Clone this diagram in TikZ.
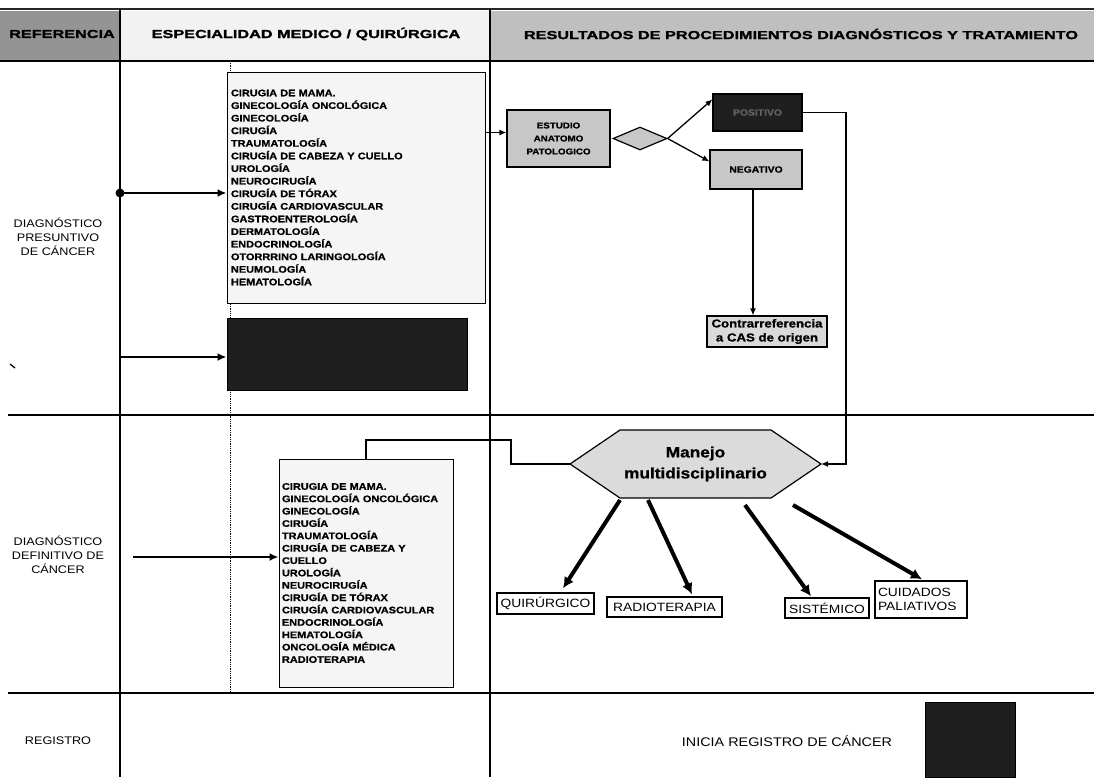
\documentclass[tikz,border=0pt]{standalone}
\usepackage{fontspec}
\setmainfont{Liberation Sans}
\newfontfamily\hfont[FakeStretch=1.4, BoldFeatures={FakeBold=1.6}]{Liberation Sans}
\newfontfamily\wfont[FakeStretch=1.15, BoldFeatures={FakeBold=1.0}]{Liberation Sans}
\usetikzlibrary{arrows.meta,shapes.geometric}
\tikzset{
  hdr/.style={font=\hfont\bfseries\fontsize{11.6}{13}\selectfont, inner sep=0pt},
  lbl/.style={font=\wfont\fontsize{11}{14}\selectfont, align=center, inner sep=0pt},
  listbox/.style={draw=black, line width=1pt, fill=black!4, inner xsep=4pt, inner ysep=0pt,
    align=left, font=\wfont\bfseries\fontsize{9.5}{12.6}\selectfont},
  graybox/.style={draw=black, line width=1.2pt, fill=black!22, inner sep=0pt, align=center},
  darkbox/.style={draw=black, line width=1pt, fill=black!88, inner sep=0pt},
  outbox/.style={draw=black, line width=1.4pt, fill=white, inner sep=0pt,
    font=\wfont\fontsize{12}{14}\selectfont},
  arr/.style={line width=1.3pt, -{Latex[length=7pt,width=6pt]}},
  barr/.style={line width=2.6pt, -{Latex[length=9pt,width=8pt]}},
  thickarr/.style={line width=4pt, -{Latex[length=11pt,width=11pt]}},
  grid/.style={line width=1.7pt}
}
\begin{document}
\begin{tikzpicture}[x=1pt,y=-1pt]
\useasboundingbox (0,0) rectangle (1094,777);
% header band
\fill[black!42] (0,11) rectangle (120,60);
\fill[black!5] (120,11) rectangle (490,60);
\fill[black!25] (490,11) rectangle (1094,60);
\draw[line width=1.4pt, black!85] (0,9) -- (1094,9);
\draw[line width=2.2pt] (0,61) -- (1094,61);
\draw[grid] (120,9) -- (120,777);
\draw[grid] (490,9) -- (490,777);
\draw[line width=2pt] (8,415) -- (1094,415);
\draw[line width=2pt] (8,693) -- (1094,693);
\draw[densely dotted, line width=0.8pt] (230,61) -- (230,693);
\draw[line width=1.3pt] (10,364) -- (15,368);

\node[hdr] (hRef) at (62,34) {REFERENCIA};
\node[hdr] (hEsp) at (306,34) {ESPECIALIDAD MEDICO / QUIRÚRGICA};
\node[hdr] (hRes) at (801,34) {RESULTADOS DE PROCEDIMIENTOS DIAGNÓSTICOS Y TRATAMIENTO};

% row labels
\node[lbl] (rPres) at (58,237) {DIAGNÓSTICO\\PRESUNTIVO\\DE CÁNCER};
\node[lbl] (rDef) at (58,555) {DIAGNÓSTICO\\DEFINITIVO DE\\CÁNCER};
\node[lbl] (rReg) at (58,741) {REGISTRO};
\node[lbl, font=\wfont\fontsize{12.5}{14}\selectfont] (rIni) at (787,741) {INICIA REGISTRO DE CÁNCER};
\node[darkbox, minimum width=90pt, minimum height=75pt] (regBox) at (970,739.5) {};

% lists
\node[listbox, minimum width=258pt, minimum height=231pt, text width=250pt] (list1) at (356,187.5) {%
CIRUGIA DE MAMA.\\GINECOLOGÍA ONCOLÓGICA\\GINECOLOGÍA\\CIRUGÍA\\TRAUMATOLOGÍA\\CIRUGÍA DE CABEZA Y CUELLO\\UROLOGÍA\\NEUROCIRUGÍA\\CIRUGÍA DE TÓRAX\\CIRUGÍA CARDIOVASCULAR\\GASTROENTEROLOGÍA\\DERMATOLOGÍA\\ENDOCRINOLOGÍA\\OTORRRINO LARINGOLOGÍA\\NEUMOLOGÍA\\HEMATOLOGÍA};
\node[darkbox, minimum width=240pt, minimum height=72pt] (dark1) at (347,354) {};
\node[listbox, inner xsep=3pt, minimum width=174pt, minimum height=228pt, text width=168pt,
  font=\wfont\bfseries\fontsize{9.5}{12.36}\selectfont] (list2) at (366,573) {%
CIRUGIA DE MAMA.\\GINECOLOGÍA ONCOLÓGICA\\GINECOLOGÍA\\CIRUGÍA\\TRAUMATOLOGÍA\\CIRUGÍA DE CABEZA Y\\CUELLO\\UROLOGÍA\\NEUROCIRUGÍA\\CIRUGÍA DE TÓRAX\\CIRUGÍA CARDIOVASCULAR\\ENDOCRINOLOGÍA\\HEMATOLOGÍA\\ONCOLOGÍA MÉDICA\\RADIOTERAPIA};

% left arrows
\coordinate (c1) at (120,193);
\fill (c1) circle (4.5pt);
\draw[barr] (c1) -- (c1 -| list1.west);
\coordinate (c2) at (119,357);
\draw[barr] (c2) -- (c2 -| dark1.west);
\coordinate (c3) at (133,557);
\draw[barr] (c3) -- (c3 -| list2.west);

% diagnostic flow
\node[graybox, minimum width=103pt, minimum height=57pt, font=\wfont\bfseries\fontsize{8.5}{13}\selectfont] (est) at (558.5,138.5) {ESTUDIO\\ANATOMO\\PATOLOGICO};
\node[diamond, draw=black, line width=1.2pt, fill=black!22, minimum width=54pt, minimum height=23pt, inner sep=0pt] (dia) at (640,138.5) {};
\node[darkbox, line width=1.2pt, minimum width=89pt, minimum height=37pt, text=black!62, font=\wfont\bfseries\fontsize{9}{11}\selectfont] (pos) at (757.5,112.5) {POSITIVO};
\node[graybox, minimum width=92pt, minimum height=39pt, font=\wfont\bfseries\fontsize{9}{11}\selectfont] (neg) at (756,169.5) {NEGATIVO};
\node[graybox, fill=black!15, minimum width=120pt, minimum height=31pt, font=\wfont\bfseries\fontsize{11.5}{14}\selectfont] (contra) at (767,331.5) {Contrarreferencia\\a CAS de origen};

\coordinate (ein) at ([yshift=6pt]est.west);
\draw[arr] (list1.east |- ein) -- (ein);
\draw[arr] (dia.east) -- ([yshift=-6pt]pos.north west);
\draw[arr] (dia.east) -- ([yshift=-12pt]neg.north west);
\coordinate (nb) at ([xshift=-3pt]neg.south);
\draw[arr] (nb) -- (nb |- contra.north);

% multidisciplinary hexagon
\coordinate (hexW) at (570,464);
\coordinate (hexE) at (821,464);
\path[draw=black, line width=1.2pt, fill=black!14] (hexW) -- (620,430) -- (771,430) -- (hexE) -- (771,498) -- (620,498) -- cycle;
\node[font=\wfont\bfseries\fontsize{15}{21}\selectfont, align=center, inner sep=0pt] (hex) at (695.5,464) {Manejo\\multidisciplinario};

\coordinate (pk) at (846,464);
\draw[arr] (pos.east) -| (pk) -- (hexE);
\coordinate (lk) at (511,440);
\draw[line width=1.3pt] (list2.north) |- (lk) |- (hexW);

% treatment boxes
\node[outbox, minimum width=97pt, minimum height=21pt] (quir) at (545.5,603.5) {QUIRÚRGICO};
\node[outbox, minimum width=115pt, minimum height=20pt] (radio) at (664.5,607) {RADIOTERAPIA};
\node[outbox, minimum width=84pt, minimum height=20pt] (sist) at (827,608) {SISTÉMICO};
\node[outbox, minimum width=92pt, minimum height=37pt, align=left, inner xsep=3pt, text width=86pt] (cuid) at (921,599.5) {CUIDADOS\\PALIATIVOS};

\coordinate (s1) at (620,500);
\coordinate (s2) at (648,500);
\coordinate (s3) at (745,505);
\coordinate (s4) at (793,505);
\draw[thickarr] (s1) -- ([xshift=17.5pt,yshift=4pt]quir.north);
\draw[thickarr] (s2) -- ([xshift=27.5pt,yshift=2pt]radio.north);
\draw[thickarr] (s3) -- ([xshift=-16pt,yshift=1pt]sist.north);
\draw[thickarr] (s4) -- ([xshift=1pt,yshift=1pt]cuid.north);
\end{tikzpicture}
\end{document}
